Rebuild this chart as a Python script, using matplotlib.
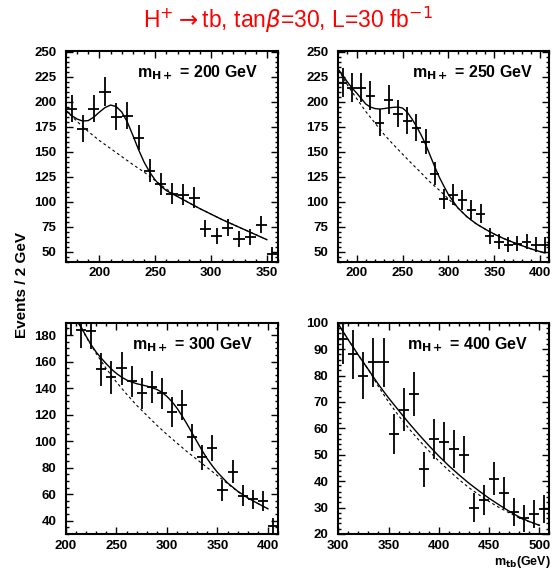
import matplotlib
matplotlib.use("Agg")
import matplotlib.pyplot as plt
from matplotlib.ticker import MultipleLocator

plt.rcParams['font.family'] = ['Liberation Sans', 'DejaVu Sans']
plt.rcParams['mathtext.fontset'] = 'dejavusans'

# ---------------- data: m_H+ = 200 GeV ----------------
x200 = [175, 185, 195, 205, 215, 225, 235, 245, 255, 265, 275, 285, 295, 305, 315, 325, 335, 345, 355]
y200 = [193, 173, 193, 210, 185, 186, 164, 131, 118, 108, 107, 104, 73, 66, 74, 63, 65, 77, 48]
e200 = [13.9, 13.2, 13.9, 14.5, 13.6, 13.6, 12.8, 11.4, 10.9, 10.4, 10.3, 10.2, 8.5, 8.1, 8.6, 7.9, 8.1, 8.8, 6.9]
fit200_x = [170, 175, 180, 185, 190, 195, 200, 205, 210, 215, 220, 225, 230, 235, 240, 245, 250, 255, 260, 270, 280, 290, 300, 310, 320, 330, 340, 350]
fit200_y = [191, 186, 182.5, 180.5, 181, 184.5, 189.5, 194, 196.5, 195, 189.5, 179.5, 166, 152, 139.5, 129.5, 121.5, 115.5, 111, 105, 99, 93, 87.5, 82, 77, 72, 67, 62]
bkg200_x = [170, 180, 190, 200, 210, 220, 230, 240, 250, 260, 270, 280, 290, 300, 310, 320, 330, 340, 350]
bkg200_y = [191, 180, 170, 161, 153, 145, 137, 129.5, 121, 112.5, 105.5, 99, 93, 87.5, 82, 77, 72, 67, 62]

# ---------------- data: m_H+ = 250 GeV ----------------
x250 = [185, 195, 205, 215, 225, 235, 245, 255, 265, 275, 285, 295, 305, 315, 325, 335, 345, 355, 365, 375, 385, 395, 405]
y250 = [219, 214, 214, 206, 179, 202, 188, 181, 174, 160, 128, 103, 107, 102, 92, 88, 66, 60, 57, 58, 60, 57, 57]
e250 = [14.8, 14.6, 14.6, 14.4, 13.4, 14.2, 13.7, 13.5, 13.2, 12.6, 11.3, 10.1, 10.3, 10.1, 9.6, 9.4, 8.1, 7.7, 7.5, 7.6, 7.7, 7.5, 7.5]
fit250_x = [180, 185, 190, 195, 200, 205, 210, 215, 220, 225, 230, 235, 240, 245, 250, 255, 260, 265, 270, 275, 280, 285, 290, 295, 300, 310, 320, 330, 340, 350, 360, 370, 380, 390, 400, 405]
fit250_y = [232, 226, 219.5, 213.5, 208.5, 203, 197.5, 194.5, 193, 192.5, 193, 193.7, 194.2, 194.5, 193.5, 189.5, 183, 175.5, 167, 157.5, 146.2, 135, 124.5, 115.5, 107, 94, 85, 78, 72.5, 67.5, 63.2, 59.5, 56, 52.8, 50, 48.8]
bkg250_x = [180, 190, 200, 210, 220, 230, 240, 250, 260, 270, 280, 290, 300, 310, 320, 330, 340, 350, 360, 370, 380, 390, 400, 405]
bkg250_y = [232, 216.5, 203, 190, 178.5, 167, 157, 147.5, 138, 129, 119.5, 111.5, 102.7, 94, 85, 78, 72.5, 67.5, 63.2, 59.5, 56, 52.8, 50, 48.8]

# ---------------- data: m_H+ = 300 GeV ----------------
x300 = [205, 215, 225, 235, 245, 255, 265, 275, 285, 295, 305, 315, 325, 335, 345, 355, 365, 375, 385, 395, 405]
y300 = [193, 184, 183, 154, 148, 155, 145, 136, 141, 136, 122, 127, 103, 88, 95, 63, 77, 59, 56, 55, 36]
e300 = [13.9, 13.6, 13.5, 12.4, 12.2, 12.4, 12.0, 11.7, 11.9, 11.7, 11.0, 11.3, 10.1, 9.4, 9.7, 7.9, 8.8, 7.7, 7.5, 7.4, 6.0]
fit300_x = [210, 215, 220, 225, 230, 235, 240, 245, 250, 255, 260, 265, 270, 280, 290, 295, 300, 305, 310, 315, 320, 325, 330, 335, 340, 345, 350, 360, 370, 380, 390, 400]
fit300_y = [192, 186, 179, 172.5, 167, 162.5, 158.2, 154.3, 151, 148.3, 146.1, 144.6, 143.3, 141.5, 139, 136.8, 133.7, 129.7, 124.8, 119, 112.7, 106, 99.3, 92.7, 86.6, 81.3, 76.5, 68.5, 62.3, 57.2, 53, 49]
bkg300_x = [210, 220, 230, 240, 250, 260, 270, 280, 290, 300, 310, 320, 330, 340, 350, 360, 370, 380, 390, 400]
bkg300_y = [192, 178.5, 166, 154.5, 144.5, 135.5, 127, 119.5, 112, 105, 98.5, 92, 86, 80, 74, 68, 62, 57, 53, 49]

# ---------------- data: m_H+ = 400 GeV ----------------
x400 = [305, 315, 325, 335, 345, 355, 365, 375, 385, 395, 405, 415, 425, 435, 445, 455, 465, 475, 485, 495, 505]
y400 = [94, 88, 80, 85, 85, 58, 67, 73, 44.5, 56, 55, 52, 50, 30, 33, 41, 35.5, 28.5, 26, 27.5, 29.5]
e400 = [9.7, 9.4, 8.9, 9.2, 9.2, 7.6, 8.2, 8.5, 6.7, 7.5, 7.4, 7.2, 7.1, 5.5, 5.7, 6.4, 6.0, 5.3, 5.1, 5.2, 5.4]
fit400_x = [300, 310, 320, 330, 340, 350, 360, 370, 380, 390, 400, 410, 420, 430, 440, 450, 460, 470, 480, 490, 500]
fit400_y = [99.5, 93.5, 87.7, 82.2, 76.6, 71.5, 66.8, 62.1, 57.7, 53.5, 49.5, 45.8, 42.4, 39.2, 36.3, 33.5, 31, 28.6, 26.4, 24.7, 23.3]
bkg400_x = [300, 310, 320, 330, 340, 350, 360, 370, 380, 390, 400, 410, 420, 430, 440, 450, 460, 470, 480, 490, 500]
bkg400_y = [99.5, 93.5, 87.7, 82.2, 75.8, 70, 64.8, 60, 55.6, 51.5, 47.6, 44, 40.6, 37.5, 34.8, 32.3, 30, 28, 26.1, 24.6, 23.3]

bin_halfwidth = 5

panels = [
    dict(rect=[0.1191, 0.5409, 0.3827, 0.3705], x=x200, y=y200, e=e200,
         fx=fit200_x, fy=fit200_y, bx=bkg200_x, by=bkg200_y,
         xlim=(170, 360), ylim=(40, 251), xmaj=50, xmin=10, ymaj=25, ymin=5,
         label=r'm$_{\mathbf{H+}}$ = 200 GeV', lx=0.906),
    dict(rect=[0.6106, 0.5409, 0.3812, 0.3705], x=x250, y=y250, e=e250,
         fx=fit250_x, fy=fit250_y, bx=bkg250_x, by=bkg250_y,
         xlim=(180, 410), ylim=(40, 251), xmaj=50, xmin=10, ymaj=25, ymin=5,
         label=r'm$_{\mathbf{H+}}$ = 250 GeV', lx=0.923),
    dict(rect=[0.1191, 0.0632, 0.3827, 0.3707], x=x300, y=y300, e=e300,
         fx=fit300_x, fy=fit300_y, bx=bkg300_x, by=bkg300_y,
         xlim=(200, 410), ylim=(30, 189.3), xmaj=50, xmin=10, ymaj=20, ymin=5,
         label=r'm$_{\mathbf{H+}}$ = 300 GeV', lx=0.882),
    dict(rect=[0.6106, 0.0632, 0.3812, 0.3707], x=x400, y=y400, e=e400,
         fx=fit400_x, fy=fit400_y, bx=bkg400_x, by=bkg400_y,
         xlim=(300, 510), ylim=(20, 100), xmaj=50, xmin=10, ymaj=10, ymin=2,
         label=r'm$_{\mathbf{H+}}$ = 400 GeV', lx=0.900),
]

fig = plt.figure(figsize=(5.54, 5.70), dpi=100)

for p in panels:
    ax = fig.add_axes(p['rect'])
    ax.errorbar(p['x'], p['y'], yerr=p['e'], xerr=bin_halfwidth, fmt='none',
                ecolor='black', elinewidth=1.3, capsize=0)
    ax.plot(p['bx'], p['by'], color='black', lw=0.8, ls=(0, (2.5, 2.5)))
    ax.plot(p['fx'], p['fy'], color='black', lw=1.0)
    ax.set_xlim(*p['xlim'])
    ax.set_ylim(*p['ylim'])
    ax.xaxis.set_major_locator(MultipleLocator(p['xmaj']))
    ax.xaxis.set_minor_locator(MultipleLocator(p['xmin']))
    ax.yaxis.set_major_locator(MultipleLocator(p['ymaj']))
    ax.yaxis.set_minor_locator(MultipleLocator(p['ymin']))
    ax.tick_params(which='both', direction='in', top=True, right=True, width=1.0)
    ax.tick_params(which='major', length=5)
    ax.tick_params(which='minor', length=2.5)
    ax.tick_params(axis='y', pad=7)
    ax.tick_params(axis='x', pad=4)
    for lab in ax.get_xticklabels() + ax.get_yticklabels():
        lab.set_fontweight('bold')
        lab.set_fontsize(9.5)
    for s in ax.spines.values():
        s.set_linewidth(1.5)
    ax.text(p['lx'], 0.895, p['label'], transform=ax.transAxes, ha='right', va='center',
            fontsize=11.5, fontweight='bold')

fig.text(0.52, 0.965, r'H$^{+}$$\rightarrow$tb, tan$\beta$=30, L=30 fb$^{-1}$',
         color='red', ha='center', va='center', fontsize=16.5)
fig.text(22 / 554, 1 - 285 / 570, 'Events / 2 GeV', rotation=90, ha='center', va='center',
         fontsize=11, fontweight='bold')
fig.text(551 / 554, 1 - 561.7 / 570, r'm$_{\mathbf{tb}}$(GeV)', ha='right', va='center',
         fontsize=9, fontweight='bold')

fig.savefig('out.png', dpi=100)
